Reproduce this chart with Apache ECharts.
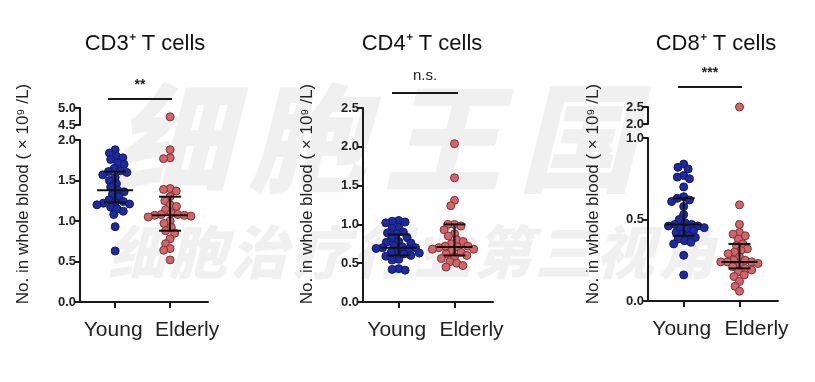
<!DOCTYPE html>
<html><head><meta charset="utf-8">
<script src="https://cdn.jsdelivr.net/npm/echarts@6/dist/echarts.min.js"></script>
<style>html,body{margin:0;padding:0;background:#fff}#c{width:815px;height:382px}</style>
</head><body><div id="c"></div>
<script>
// ---------- data ----------
const categories = ['Young', 'Elderly'];
const panelTitles = ['CD3⁺ T cells', 'CD4⁺ T cells', 'CD8⁺ T cells'];
const significance = ['**', 'n.s.', '***'];
const yAxisTitle = 'No. in whole blood ( × 10⁹ /L)';
const watermarkBig = '细胞王国';
const watermarkSmall = '细胞治疗行业第三视角';

const cd3Young = [1.88, 1.84, 1.80, 1.78, 1.76, 1.72, 1.70, 1.65, 1.62, 1.61, 1.60, 1.57, 1.54, 1.50, 1.46, 1.42, 1.38, 1.36, 1.33, 1.30, 1.26, 1.24, 1.23, 1.22, 1.21, 1.20, 1.17, 1.15, 1.12, 1.08, 0.93, 0.63];
const cd3Elderly = [4.74, 1.88, 1.78, 1.77, 1.40, 1.39, 1.37, 1.30, 1.25, 1.20, 1.18, 1.14, 1.10, 1.08, 1.08, 1.07, 1.07, 1.06, 1.05, 1.00, 0.97, 0.92, 0.88, 0.85, 0.78, 0.72, 0.66, 0.64, 0.52];
const cd4Young = [1.05, 1.04, 1.03, 1.02, 0.96, 0.95, 0.90, 0.89, 0.88, 0.83, 0.82, 0.78, 0.77, 0.76, 0.72, 0.71, 0.70, 0.70, 0.69, 0.68, 0.65, 0.64, 0.63, 0.62, 0.60, 0.59, 0.55, 0.54, 0.43, 0.42, 0.41];
const cd4Elderly = [2.04, 1.60, 1.31, 1.24, 1.00, 1.00, 0.98, 0.93, 0.88, 0.85, 0.80, 0.78, 0.75, 0.72, 0.72, 0.71, 0.70, 0.68, 0.68, 0.66, 0.64, 0.62, 0.60, 0.58, 0.56, 0.52, 0.50, 0.47, 0.45];
const cd8Young = [0.84, 0.82, 0.81, 0.77, 0.76, 0.75, 0.70, 0.64, 0.63, 0.62, 0.61, 0.58, 0.53, 0.50, 0.48, 0.47, 0.47, 0.46, 0.46, 0.45, 0.45, 0.44, 0.43, 0.42, 0.41, 0.40, 0.39, 0.38, 0.37, 0.36, 0.35, 0.28, 0.16];
const cd8Elderly = [2.50, 0.59, 0.47, 0.42, 0.41, 0.40, 0.38, 0.35, 0.34, 0.32, 0.31, 0.30, 0.29, 0.27, 0.25, 0.25, 0.24, 0.24, 0.24, 0.23, 0.22, 0.21, 0.20, 0.19, 0.18, 0.16, 0.15, 0.12, 0.09, 0.06];

// [median, q1, q3] per category
const cd3Stats = [[1.38, 1.23, 1.61], [1.07, 0.88, 1.30]];
const cd4Stats = [[0.70, 0.60, 0.87], [0.71, 0.60, 1.00]];
const cd8Stats = [[0.47, 0.40, 0.63], [0.24, 0.20, 0.35]];

// tick labels
const cd3LowerTicks = [0, 0.5, 1.0, 1.5, 2.0];
const cd3UpperTicks = [4.5, 5.0];
const cd4Ticks = [0, 0.5, 1.0, 1.5, 2.0, 2.5];
const cd8LowerTicks = [0, 0.5, 1.0];
const cd8UpperTicks = [2.0, 2.5];

// ---------- layout / style ----------
const FONT = "'Liberation Sans', Arial, Helvetica, sans-serif";
const AX = '#1a1a1a';
const COLORS = [{fill: '#1f2b9c', border: '#101764'}, {fill: '#d06669', border: '#7e3034'}];
const XMIN = 0.36, XMAX = 2.69;
const CAT_LABEL_SHIFT = [-2, 17];

const panels = [
  {young: cd3Young, elderly: cd3Elderly, stats: cd3Stats, lower: cd3LowerTicks, upper: cd3UpperTicks,
   box: {left: 80, top: 140, width: 128, height: 162, upTop: 108, upH: 17},
   titleX: 145, labelX: 23, sig: {x1: 108, x2: 172, y: 99, ty: 85}},
  {young: cd4Young, elderly: cd4Elderly, stats: cd4Stats, lower: cd4Ticks, upper: null,
   box: {left: 363, top: 108, width: 130, height: 194},
   titleX: 422, labelX: 307, sig: {x1: 392, x2: 458, y: 93, ty: 76}},
  {young: cd8Young, elderly: cd8Elderly, stats: cd8Stats, lower: cd8LowerTicks, upper: cd8UpperTicks,
   box: {left: 648, top: 138, width: 130, height: 163, upTop: 107, upH: 17},
   titleX: 716, labelX: 593, sig: {x1: 678, x2: 742, y: 87, ty: 73}}
];

const grids = [], xAxes = [], yAxes = [], series = [], graphics = [];

function yAxisOpt(gi, ticks) {
  return {
    type: 'value', gridIndex: gi, min: ticks[0], max: ticks[ticks.length - 1], interval: 0.5,
    axisLine: {show: true, lineStyle: {color: AX, width: 2}},
    axisTick: {show: true, length: 6, lineStyle: {color: AX, width: 2}},
    axisLabel: {show: true, margin: 4, color: '#222', fontFamily: FONT, fontWeight: 'bold', fontSize: 13,
      hideOverlap: false, formatter: v => v.toFixed(1)},
    splitLine: {show: false}
  };
}

function errRender(params, api) {
  const x = api.value(0);
  const m = api.coord([x, api.value(1)]);
  const a = api.coord([x, api.value(2)]);
  const b = api.coord([x, api.value(3)]);
  const st = {stroke: '#111', lineWidth: 2};
  return {type: 'group', children: [
    {type: 'line', shape: {x1: m[0] - 18, y1: m[1], x2: m[0] + 18, y2: m[1]}, style: st},
    {type: 'line', shape: {x1: a[0], y1: a[1], x2: b[0], y2: b[1]}, style: st},
    {type: 'line', shape: {x1: a[0] - 11, y1: a[1], x2: a[0] + 11, y2: a[1]}, style: st},
    {type: 'line', shape: {x1: b[0] - 11, y1: b[1], x2: b[0] + 11, y2: b[1]}, style: st}
  ]};
}

const scatterMeta = [], lowGrids = [];

panels.forEach((p, pi) => {
  const b = p.box;
  const lowGi = grids.length;
  lowGrids.push(lowGi);
  grids.push({left: b.left, top: b.top, width: b.width, height: b.height, containLabel: false});
  xAxes.push({
    type: 'value', gridIndex: lowGi, min: XMIN, max: XMAX,
    axisLine: {show: true, onZero: false, lineStyle: {color: AX, width: 2}},
    axisTick: {show: true, length: 6, customValues: [1, 2], lineStyle: {color: AX, width: 2}},
    axisLabel: {show: false, customValues: [1, 2]},
    splitLine: {show: false}
  });
  yAxes.push(yAxisOpt(lowGi, p.lower));
  let upGi = null;
  if (p.upper) {
    upGi = grids.length;
    grids.push({left: b.left, top: b.upTop, width: b.width, height: b.upH, containLabel: false});
    xAxes.push({type: 'value', gridIndex: upGi, min: XMIN, max: XMAX, show: false});
    yAxes.push(yAxisOpt(upGi, p.upper));
  }
  const lowMax = p.lower[p.lower.length - 1];
  [p.young, p.elderly].forEach((vals, ci) => {
    const parts = [[lowGi, vals.filter(v => v <= lowMax)]];
    if (upGi !== null) parts.push([upGi, vals.filter(v => v > lowMax)]);
    parts.forEach(([gi, vs]) => {
      if (!vs.length) return;
      const id = 's' + pi + '_' + ci + '_' + gi;
      scatterMeta.push({id, gi, center: ci + 1, vals: vs});
      series.push({
        id, type: 'scatter', xAxisIndex: gi, yAxisIndex: gi, symbol: 'circle', symbolSize: 8,
        itemStyle: {color: COLORS[ci].fill, borderColor: COLORS[ci].border, borderWidth: 1, opacity: 1},
        data: vs.map(v => [ci + 1, v]), z: 3, clip: false, silent: true
      });
    });
  });
  series.push({
    type: 'custom', xAxisIndex: lowGi, yAxisIndex: lowGi, renderItem: errRender, z: 5, silent: true,
    encode: {x: 0, y: [1, 2, 3]},
    data: p.stats.map((s, ci) => [ci + 1, s[0], s[1], s[2]])
  });

  graphics.push({type: 'text', x: p.titleX, y: 44, z: 10,
    style: {text: panelTitles[pi], fill: '#111', font: '22px ' + FONT, textAlign: 'center', textVerticalAlign: 'middle'}});
  graphics.push({type: 'text', x: p.labelX, y: 194, rotation: Math.PI / 2, z: 10,
    style: {text: yAxisTitle, fill: '#222', font: '17px ' + FONT, textAlign: 'center', textVerticalAlign: 'middle'}});
  graphics.push({type: 'line', z: 10, shape: {x1: p.sig.x1, y1: p.sig.y, x2: p.sig.x2, y2: p.sig.y},
    style: {stroke: '#1a1a1a', lineWidth: 2}});
  graphics.push({type: 'text', x: (p.sig.x1 + p.sig.x2) / 2, y: p.sig.ty, z: 10,
    style: {text: significance[pi], fill: '#222', font: (pi === 1 ? '15px ' : 'bold 14px ') + FONT,
      textAlign: 'center', textVerticalAlign: 'middle'}});
});

// watermark (faint)
const wmFont = "'Noto Sans CJK SC', sans-serif";
[...watermarkBig].forEach((ch, i) => {
  graphics.push({type: 'text', x: 172 + i * 135, y: 138, z: -5,
    style: {text: ch, fill: '#f0f0f0', font: 'italic 900 118px ' + wmFont, textAlign: 'center', textVerticalAlign: 'middle'}});
});
[...watermarkSmall].forEach((ch, i) => {
  graphics.push({type: 'text', x: 137 + i * 61, y: 252, z: -5,
    style: {text: ch, fill: '#f0f0f0', font: 'italic 900 58px ' + wmFont, textAlign: 'center', textVerticalAlign: 'middle'}});
});

const chart = echarts.init(document.getElementById('c'));
chart.setOption({
  animation: false, backgroundColor: '#fff',
  grid: grids, xAxis: xAxes, yAxis: yAxes, series: series, graphic: graphics
});

// beeswarm layout in pixel space
function swarm(pys, D) {
  const idx = pys.map((_, i) => i).sort((a, b) => pys[a] - pys[b]);
  const placed = [], off = new Array(pys.length).fill(0);
  idx.forEach(i => {
    const y = pys[i];
    const ivs = [];
    placed.forEach(q => {
      const dy = Math.abs(q.y - y);
      if (dy < D) { const w = Math.sqrt(D * D - dy * dy); ivs.push([q.x - w, q.x + w]); }
    });
    const cands = [0];
    ivs.forEach(iv => cands.push(iv[0], iv[1]));
    cands.sort((a, b) => Math.abs(a) - Math.abs(b) || a - b);
    let x = 0;
    for (const c of cands) {
      if (ivs.every(iv => c <= iv[0] + 1e-6 || c >= iv[1] - 1e-6)) { x = c; break; }
    }
    placed.push({x, y});
    off[i] = x;
  });
  return off;
}

const update = scatterMeta.map(m => {
  const f = {gridIndex: m.gi};
  const pxPerUnit = chart.convertToPixel(f, [2, 0])[0] - chart.convertToPixel(f, [1, 0])[0];
  const pys = m.vals.map(v => chart.convertToPixel(f, [m.center, v])[1]);
  const offs = swarm(pys, 6.6);
  return {id: m.id, data: m.vals.map((v, i) => [m.center + offs[i] / pxPerUnit, v])};
});

// category labels placed through the axis scale
const catLabels = [];
lowGrids.forEach(gi => {
  categories.forEach((c, ci) => {
    const pt = chart.convertToPixel({gridIndex: gi}, [ci + 1, 0]);
    catLabels.push({type: 'text', x: pt[0] + CAT_LABEL_SHIFT[ci], y: pt[1] + 28, z: 10,
      style: {text: c, fill: '#222', font: '21px ' + FONT, textAlign: 'center', textVerticalAlign: 'middle'}});
  });
});
chart.setOption({series: update, graphic: graphics.concat(catLabels)});
</script>
</body></html>
